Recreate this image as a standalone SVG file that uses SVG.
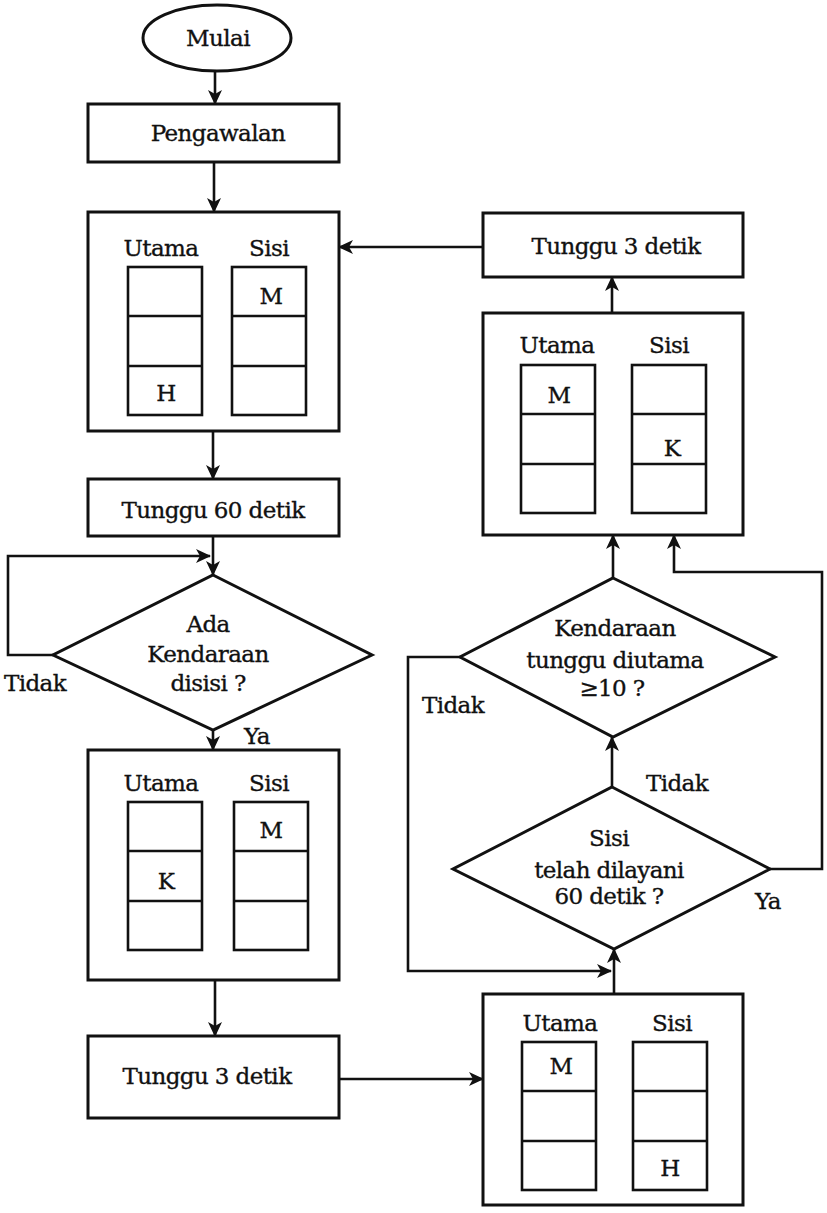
<svg xmlns="http://www.w3.org/2000/svg" width="827" height="1213" viewBox="0 0 827 1213">
  <style>
    .box { fill: none; stroke: #111; stroke-width: 3; }
    .cell { fill: none; stroke: #111; stroke-width: 2.6; }
    .line { fill: none; stroke: #111; stroke-width: 2.6; }
    .t, .tl { font-family: "DejaVu Serif", "Liberation Serif", serif; font-size: 23px; letter-spacing: -0.6px; fill: #111; stroke: #111; stroke-width: 0.35; }
    .t { text-anchor: middle; }
  </style>
  <defs>
    <marker id="arrow" markerUnits="userSpaceOnUse" markerWidth="18" markerHeight="18" refX="14" refY="8" orient="auto">
      <path d="M0,1 L15,8 L0,15 L4,8 Z" fill="#111"/>
    </marker>
    <!-- a queue column of three cells -->
    <g id="queue">
      <rect x="0" y="0" width="74" height="148" class="cell"/>
      <line x1="0" y1="49" x2="74" y2="49" class="cell"/>
      <line x1="0" y1="99" x2="74" y2="99" class="cell"/>
    </g>
  </defs>
  <rect width="827" height="1213" fill="#fff"/>

  <g id="connectors">
    <path d="M215,71 L215,104" class="line" marker-end="url(#arrow)"/>
    <path d="M214,162 L214,212" class="line" marker-end="url(#arrow)"/>
    <path d="M213,431 L213,479" class="line" marker-end="url(#arrow)"/>
    <path d="M213,536 L213,575" class="line" marker-end="url(#arrow)"/>
    <path d="M53,655 L8,655 L8,556 L210,556" class="line" marker-end="url(#arrow)"/>
    <path d="M213,730 L213,750" class="line" marker-end="url(#arrow)"/>
    <path d="M215,980 L215,1036" class="line" marker-end="url(#arrow)"/>
    <path d="M339,1079 L483,1079" class="line" marker-end="url(#arrow)"/>
    <path d="M614,994 L614,949" class="line" marker-end="url(#arrow)"/>
    <path d="M460,657 L408,657 L408,971 L611,971" class="line" marker-end="url(#arrow)"/>
    <path d="M612,787 L612,737" class="line" marker-end="url(#arrow)"/>
    <path d="M770,869 L822,869 L822,572 L674,572 L674,535" class="line" marker-end="url(#arrow)"/>
    <path d="M613,578 L613,535" class="line" marker-end="url(#arrow)"/>
    <path d="M612,313 L612,277" class="line" marker-end="url(#arrow)"/>
    <path d="M483,247 L339,247" class="line" marker-end="url(#arrow)"/>
  </g>

  <g id="mulai">
    <ellipse cx="217" cy="38" rx="74" ry="33" class="box"/>
    <text x="218" y="46" class="t">Mulai</text>
  </g>

  <g id="pengawalan">
    <rect x="88" y="104" width="251" height="58" class="box"/>
    <text x="218" y="141" class="t">Pengawalan</text>
  </g>

  <g id="state-1">
    <rect x="88" y="212" width="251" height="219" class="box"/>
    <text x="161" y="256" class="t">Utama</text>
    <text x="269" y="256" class="t">Sisi</text>
    <use href="#queue" x="128" y="267"/>
    <use href="#queue" x="232" y="267"/>
    <text x="271" y="304" class="t">M</text>
    <text x="166" y="401" class="t">H</text>
  </g>

  <g id="tunggu-60">
    <rect x="88" y="479" width="251" height="57" class="box"/>
    <text x="213" y="518" class="t">Tunggu 60 detik</text>
  </g>

  <g id="ada-kendaraan">
    <polygon points="213,575 372,655 213,730 53,655" class="box"/>
    <text x="208" y="632" class="t">Ada</text>
    <text x="208" y="662" class="t">Kendaraan</text>
    <text x="208" y="691" class="t">disisi ?</text>
    <text x="4" y="691" class="tl">Tidak</text>
    <text x="244" y="744" class="tl">Ya</text>
  </g>

  <g id="state-2">
    <rect x="88" y="750" width="251" height="230" class="box"/>
    <text x="161" y="791" class="t">Utama</text>
    <text x="269" y="791" class="t">Sisi</text>
    <use href="#queue" x="128" y="802"/>
    <use href="#queue" x="234" y="802"/>
    <text x="271" y="838" class="t">M</text>
    <text x="166" y="889" class="t">K</text>
  </g>

  <g id="tunggu-3-kiri">
    <rect x="88" y="1036" width="251" height="82" class="box"/>
    <text x="207" y="1084" class="t">Tunggu 3 detik</text>
  </g>

  <g id="state-3">
    <rect x="483" y="994" width="260" height="211" class="box"/>
    <text x="560" y="1031" class="t">Utama</text>
    <text x="672" y="1031" class="t">Sisi</text>
    <use href="#queue" x="522" y="1042"/>
    <use href="#queue" x="633" y="1042"/>
    <text x="561" y="1074" class="t">M</text>
    <text x="670" y="1176" class="t">H</text>
  </g>

  <g id="sisi-dilayani">
    <polygon points="612,787 770,869 614,949 453,869" class="box"/>
    <text x="609" y="846" class="t">Sisi</text>
    <text x="609" y="878" class="t">telah dilayani</text>
    <text x="609" y="904" class="t">60 detik ?</text>
    <text x="755" y="909" class="tl">Ya</text>
    <text x="646" y="791" class="tl">Tidak</text>
  </g>

  <g id="kendaraan-utama">
    <polygon points="613,578 775,657 613,737 460,657" class="box"/>
    <text x="615" y="636" class="t">Kendaraan</text>
    <text x="615" y="668" class="t">tunggu diutama</text>
    <text x="612" y="696" class="t">≥10 ?</text>
    <text x="422" y="713" class="tl">Tidak</text>
  </g>

  <g id="state-4">
    <rect x="483" y="313" width="260" height="222" class="box"/>
    <text x="557" y="353" class="t">Utama</text>
    <text x="669" y="353" class="t">Sisi</text>
    <use href="#queue" x="521" y="365"/>
    <use href="#queue" x="632" y="365"/>
    <text x="559" y="403" class="t">M</text>
    <text x="672" y="456" class="t">K</text>
  </g>

  <g id="tunggu-3-kanan">
    <rect x="483" y="213" width="260" height="64" class="box"/>
    <text x="616" y="254" class="t">Tunggu 3 detik</text>
  </g>
</svg>
